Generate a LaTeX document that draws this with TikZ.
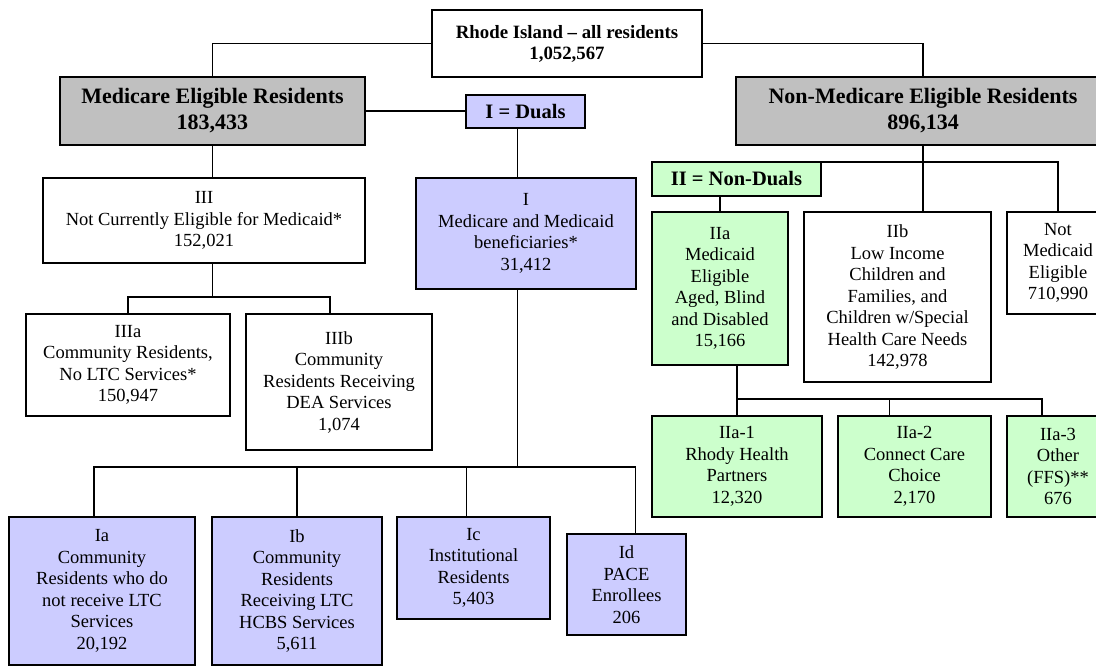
\documentclass[tikz,border=0pt]{standalone}
\usepackage{fontspec}
\setmainfont{Liberation Serif}
\usepackage{tikz}

\definecolor{medgray}{HTML}{C0C0C0}
\definecolor{dualblue}{HTML}{CCCCFF}
\definecolor{nongreen}{HTML}{CCFFCC}

\tikzset{
	box/.style={draw, line width=1.2pt, inner sep=0pt, outer sep=0pt, align=center, anchor=north west, font={\fontsize{18.5}{21.5}\selectfont}},
	headbox/.style={box, font={\bfseries\fontsize{22}{26}\selectfont}},
	tagbox/.style={box, font={\bfseries\fontsize{20.5}{24}\selectfont}},
	wire/.style={line width=1.2pt}
}

\begin{document}
\begin{tikzpicture}[x=1pt, y=-1pt]
				\useasboundingbox (0,0) rectangle (1096,667);
				
				\node[box, font={\bfseries\fontsize{18.8}{21}\selectfont}, fill=white, minimum width=270, minimum height=67] (top) at (432,10) {Rhode Island -- all residents\\1,052,567};
				
				\node[headbox, fill=medgray, minimum width=305, minimum height=68] (medicare) at (60,77) {Medicare Eligible Residents\\183,433};
				\node[headbox, fill=medgray, minimum width=374, minimum height=68] (nonmed) at (736,77) {Non-Medicare Eligible Residents\\896,134};
				
				\node[tagbox, fill=dualblue, minimum width=119, minimum height=33] (duals) at (466,95) {I = Duals};
				\node[tagbox, fill=nongreen, minimum width=169, minimum height=34] (nduals) at (652,162) {II = Non-Duals};
				
				\node[box, fill=white, minimum width=322, minimum height=85] (III) at (43,178) {III\\Not Currently Eligible for Medicaid*\\152,021};
				\node[box, fill=dualblue, minimum width=220, minimum height=111] (I) at (416,178) {I\\Medicare and Medicaid\\beneficiaries*\\31,412};
				
				\node[box, fill=white, minimum width=204, minimum height=102] (IIIa) at (26,314) {IIIa\\Community Residents,\\No LTC Services*\\150,947};
				\node[box, fill=white, minimum width=186, minimum height=136] (IIIb) at (246,314) {IIIb\\Community\\Residents Receiving\\DEA Services\\1,074};
				
				\node[box, fill=dualblue, minimum width=186, minimum height=148] (Ia) at (9,517) {Ia\\Community\\Residents who do\\not receive LTC\\Services\\20,192};
				\node[box, fill=dualblue, minimum width=170, minimum height=148] (Ib) at (212,517) {Ib\\Community\\Residents\\Receiving LTC\\HCBS Services\\5,611};
				\node[box, fill=dualblue, minimum width=153, minimum height=102] (Ic) at (397,517) {Ic\\Institutional\\Residents\\5,403};
				\node[box, fill=dualblue, minimum width=119, minimum height=101] (Id) at (567,534) {Id\\PACE\\Enrollees\\206};
				
				\node[box, fill=nongreen, minimum width=136, minimum height=153] (IIa) at (652,212) {IIa\\Medicaid\\Eligible\\Aged, Blind\\and Disabled\\15,166};
				\node[box, fill=white, minimum width=187, minimum height=170] (IIb) at (804,212) {IIb\\Low Income\\Children and\\Families, and\\Children w/Special\\Health Care Needs\\142,978};
				\node[box, fill=white, minimum width=102, minimum height=102] (notmed) at (1007,212) {Not\\Medicaid\\Eligible\\710,990};
				
				\node[box, fill=nongreen, minimum width=170, minimum height=101] (IIa1) at (652,416) {IIa-1\\Rhody Health\\Partners\\12,320};
				\node[box, fill=nongreen, minimum width=153, minimum height=101] (IIa2) at (838,416) {IIa-2\\Connect Care\\Choice\\2,170};
				\node[box, fill=nongreen, minimum width=102, minimum height=101] (IIa3) at (1007,416) {IIa-3\\Other\\(FFS)**\\676};
				
				\draw[wire] (top.west) -| (medicare.north);
				\draw[wire] (top.east) -| (nonmed.north);
				\draw[wire] (medicare.east) -- (medicare.east -| duals.west);
				\draw[wire] ([xshift=-8pt]duals.south) -- ([xshift=-8pt]duals.south |- I.north);
				
				\draw[wire] (medicare.south) -- (medicare.south |- III.north);
				\draw[wire] (medicare.south |- III.south) -- ++(0,34) coordinate (bus3);
				\draw[wire] (IIIa.north) |- (bus3) -| ([xshift=-9pt]IIIb.north);
				
				\draw[wire] ([xshift=-8pt]duals.south |- I.south) -- ++(0,178) coordinate (busI);
				\draw[wire] ([xshift=-8pt]Ia.north) |- (busI) -| ([xshift=9pt]Id.north);
				\draw[wire] (Ib.north) -- (Ib.north |- busI);
				\draw[wire] ([xshift=-7pt]Ic.north) -- ([xshift=-7pt]Ic.north |- busI);
				
				\draw[wire] (nonmed.south) -- ++(0,17) coordinate (busN);
				\draw[wire] (nduals.north) -| (notmed.north);
				\draw[wire] (busN) -- (busN |- IIb.north);
				\draw[wire] (IIa.north |- nduals.south) -- (IIa.north);
				
				\draw[wire] (IIa1.north |- IIa.south) -- (IIa1.north |- 0,399) coordinate (busA);
				\draw[wire] (IIa1.north) -- (busA) -| ([xshift=-16pt]IIa3.north);
				\draw[wire] ([xshift=-25pt]IIa2.north) -- ([xshift=-25pt]IIa2.north |- busA);
				\end{tikzpicture}
\end{document}
